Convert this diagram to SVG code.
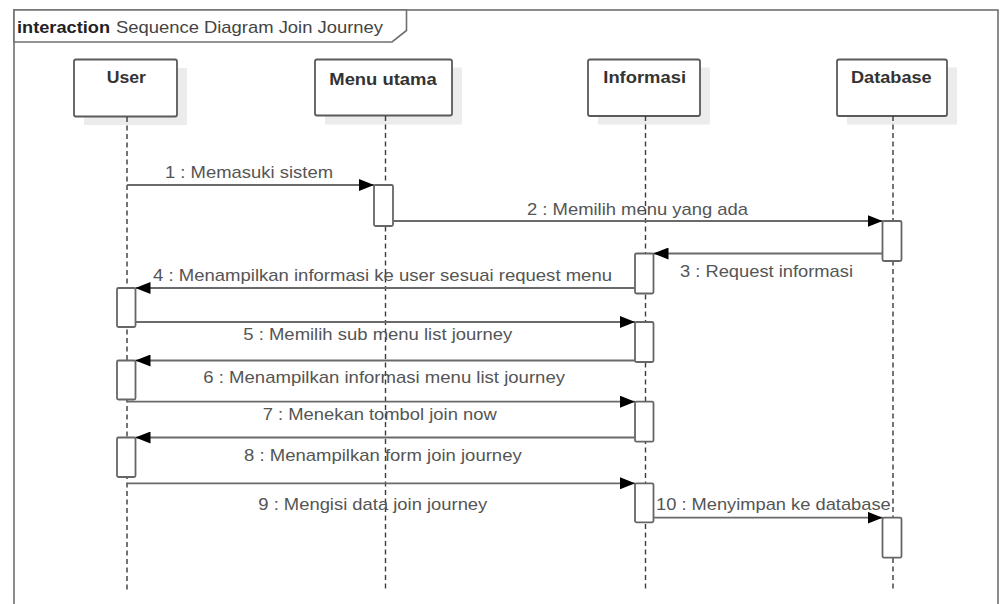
<svg xmlns="http://www.w3.org/2000/svg" width="1003" height="604" viewBox="0 0 1003 604">
  <style>
    .frame { fill: none; stroke: #707070; stroke-width: 1.6; }
    .tab { fill: #ffffff; stroke: #707070; stroke-width: 1.6; }
    .head { fill: #ffffff; stroke: #5a5a5a; stroke-width: 1.8; }
    .shadow { fill: #ececec; stroke: none; }
    .life { stroke: #3a3a3a; stroke-width: 1.4; stroke-dasharray: 5 3.5; fill: none; }
    .act { fill: #ffffff; stroke: #666666; stroke-width: 1.8; }
    .msg { stroke: #6a6a6a; stroke-width: 1.8; fill: none; marker-end: url(#arrow); }
    .lbl { font-family: "Liberation Sans", Arial, sans-serif; font-size: 17px; fill: #555555; }
    .name { font-family: "Liberation Sans", Arial, sans-serif; font-size: 17px; font-weight: bold; fill: #333333; }
    .title { font-family: "Liberation Sans", Arial, sans-serif; font-size: 17px; fill: #444444; }
  </style>
  <defs>
    <marker id="arrow" markerWidth="15" markerHeight="12" refX="15" refY="6" orient="auto" markerUnits="userSpaceOnUse">
      <path d="M0,0 L15,6 L0,12 Z" fill="#000000"/>
    </marker>
  </defs>

  <rect x="0" y="0" width="1003" height="604" fill="#ffffff"/>

  <!-- interaction frame -->
  <g id="frame">
    <rect class="frame" x="14" y="10" width="984" height="610"/>
    <path class="tab" d="M14,10 L406.5,10 L406.5,30.5 L392,42 L14,42 Z"/>
    <text class="title" x="17" y="33"><tspan font-weight="bold" fill="#222222" textLength="93" lengthAdjust="spacingAndGlyphs">interaction</tspan><tspan x="116" textLength="267" lengthAdjust="spacingAndGlyphs">Sequence Diagram Join Journey</tspan></text>
  </g>

  <!-- lifelines -->
  <g id="lifeline-user">
    <rect class="shadow" x="84" y="68" width="103" height="57"/>
    <rect class="head" x="74" y="59.5" width="103" height="57" rx="2"/>
    <text class="name" x="106.7" y="83.3" textLength="39.3" lengthAdjust="spacingAndGlyphs">User</text>
    <line class="life" x1="127" y1="117" x2="127" y2="592"/>
  </g>
  <g id="lifeline-menu-utama">
    <rect class="shadow" x="325" y="67.5" width="137" height="57"/>
    <rect class="head" x="315" y="59.5" width="137" height="56" rx="2"/>
    <text class="name" x="329.3" y="84.5" textLength="107.4" lengthAdjust="spacingAndGlyphs">Menu utama</text>
    <line class="life" x1="385.5" y1="116" x2="385.5" y2="592"/>
  </g>
  <g id="lifeline-informasi">
    <rect class="shadow" x="598" y="67.5" width="112" height="57"/>
    <rect class="head" x="588" y="59.5" width="112" height="56.5" rx="2"/>
    <text class="name" x="603.3" y="83.3" textLength="82.7" lengthAdjust="spacingAndGlyphs">Informasi</text>
    <line class="life" x1="645.5" y1="116" x2="645.5" y2="592"/>
  </g>
  <g id="lifeline-database">
    <rect class="shadow" x="847" y="67.5" width="110" height="57"/>
    <rect class="head" x="837" y="59.5" width="110" height="56.5" rx="2"/>
    <text class="name" x="851" y="83.3" textLength="80.7" lengthAdjust="spacingAndGlyphs">Database</text>
    <line class="life" x1="893" y1="116" x2="893" y2="592"/>
  </g>

  <!-- activation bars -->
  <g id="activations">
    <rect class="act" x="374" y="185" width="19" height="41" rx="1.5"/>
    <rect class="act" x="882.5" y="221" width="19" height="40" rx="1.5"/>
    <rect class="act" x="635" y="253.5" width="18.5" height="40" rx="1.5"/>
    <rect class="act" x="117" y="288" width="18.5" height="39" rx="1.5"/>
    <rect class="act" x="635" y="322" width="18.5" height="40" rx="1.5"/>
    <rect class="act" x="117" y="360.5" width="18.5" height="39" rx="1.5"/>
    <rect class="act" x="635" y="401.7" width="18.5" height="40" rx="1.5"/>
    <rect class="act" x="117" y="437.5" width="18.5" height="39.5" rx="1.5"/>
    <rect class="act" x="635" y="483.3" width="18.5" height="39" rx="1.5"/>
    <rect class="act" x="882.5" y="517.7" width="19" height="40" rx="1.5"/>
  </g>

  <!-- messages -->
  <g id="connectors">
    <line class="msg" x1="127" y1="185" x2="374" y2="185"/>
    <line class="msg" x1="393" y1="221" x2="882.5" y2="221"/>
    <line class="msg" x1="882.5" y1="253.5" x2="653.5" y2="253.5"/>
    <line class="msg" x1="635" y1="288" x2="135.5" y2="288"/>
    <line class="msg" x1="135.5" y1="322" x2="635" y2="322"/>
    <line class="msg" x1="635" y1="360.5" x2="135.5" y2="360.5"/>
    <line class="msg" x1="127" y1="401.7" x2="635" y2="401.7"/>
    <line class="msg" x1="635" y1="437.5" x2="135.5" y2="437.5"/>
    <line class="msg" x1="127" y1="483.3" x2="635" y2="483.3"/>
    <line class="msg" x1="653.5" y1="517.7" x2="882.5" y2="517.7"/>
  </g>

  <!-- message labels -->
  <g id="labels">
    <text class="lbl" x="165" y="178.3" textLength="168" lengthAdjust="spacingAndGlyphs">1 : Memasuki sistem</text>
    <text class="lbl" x="527" y="215" textLength="221" lengthAdjust="spacingAndGlyphs">2 : Memilih menu yang ada</text>
    <text class="lbl" x="680" y="276.7" textLength="173" lengthAdjust="spacingAndGlyphs">3 : Request informasi</text>
    <text class="lbl" x="153" y="281" textLength="459" lengthAdjust="spacingAndGlyphs">4 : Menampilkan informasi ke user sesuai request menu</text>
    <text class="lbl" x="243.3" y="340" textLength="269" lengthAdjust="spacingAndGlyphs">5 : Memilih sub menu list journey</text>
    <text class="lbl" x="203.3" y="383.3" textLength="361.7" lengthAdjust="spacingAndGlyphs">6 : Menampilkan informasi menu list journey</text>
    <text class="lbl" x="262.7" y="420" textLength="234" lengthAdjust="spacingAndGlyphs">7 : Menekan tombol join now</text>
    <text class="lbl" x="244" y="461" textLength="277.7" lengthAdjust="spacingAndGlyphs">8 : Menampilkan form join journey</text>
    <text class="lbl" x="258.3" y="510" textLength="229" lengthAdjust="spacingAndGlyphs">9 : Mengisi data join journey</text>
    <text class="lbl" x="656" y="510" textLength="234.7" lengthAdjust="spacingAndGlyphs">10 : Menyimpan ke database</text>
  </g>
</svg>
